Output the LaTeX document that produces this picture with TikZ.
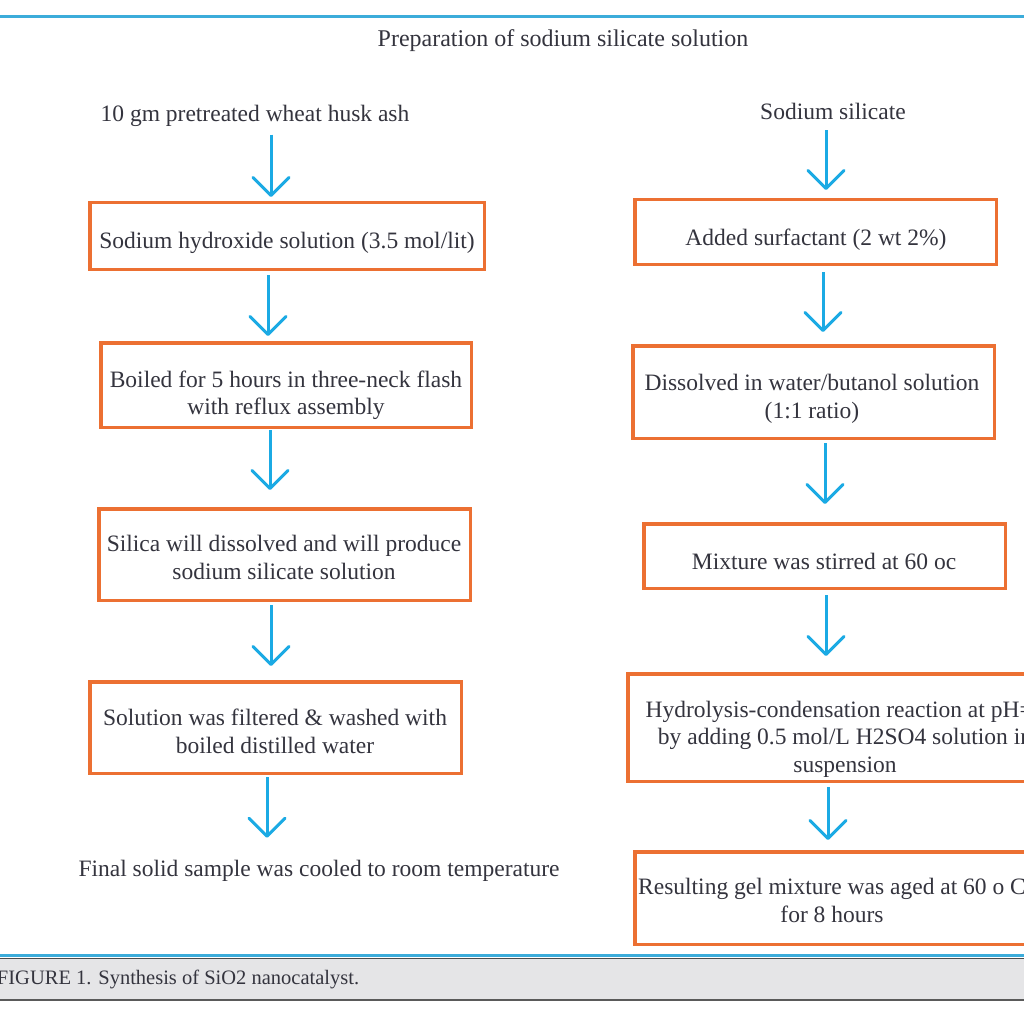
\documentclass[tikz,border=0pt]{standalone}
\usepackage{fontspec}
\setmainfont{Liberation Serif}
\usetikzlibrary{arrows.meta}
\definecolor{boxor}{RGB}{236,112,50}
\definecolor{arrbl}{RGB}{27,170,228}
\definecolor{txtc}{RGB}{52,52,62}
\definecolor{rulebl}{RGB}{60,172,218}
\definecolor{capbg}{RGB}{229,229,231}
\definecolor{capdk}{RGB}{90,90,90}
\begin{document}
\begin{tikzpicture}[x=1pt,y=-1pt,
  txt/.style={text=txtc, inner sep=0pt, outer sep=0pt, align=center,
    font=\fontsize{23.5}{27.5}\selectfont,
    execute at begin node=\strut, execute at end node=\strut},
  ttl/.style={txt, font=\fontsize{24}{27.5}\selectfont},
  captxt/.style={txt, font=\fontsize{20.5}{24}\selectfont},
  box/.style={draw=boxor, line width=3.5pt, inner sep=0pt},
  arr/.style={draw=arrbl, line width=3pt, -{Straight Barb[length=18pt,width=36pt,round]}},
  toprule/.style={draw=rulebl, line width=3pt},
]
\useasboundingbox (0,0) rectangle (1024,1024);
\clip (0,0) rectangle (1024,1024);
\fill[white] (0,0) rectangle (1024,1024);

% top rule and title
\draw[toprule] (-5,17) -- (1030,17);
\node[ttl] (title) at (563,41.5) {Preparation of sodium silicate solution};

% left column
\node[txt] (t0) at (255,116) {10 gm pretreated wheat husk ash};
\node[box, minimum width=394.5pt, minimum height=66.5pt] (b1) at (287,236) {};
\node[txt] (b1t) at (287,243) {Sodium hydroxide solution (3.5 mol/lit)};
\node[box, minimum width=370.5pt, minimum height=84.5pt] (b2) at (286,385) {};
\node[txt] (b2t) at (286,397) {Boiled for 5 hours in three-neck flash\\with reflux assembly};
\node[box, minimum width=371.5pt, minimum height=91.5pt] (b3) at (284.5,554.5) {};
\node[txt] (b3t) at (284,561.5) {Silica will dissolved and will produce\\sodium silicate solution};
\node[box, minimum width=371.5pt, minimum height=91.5pt] (b4) at (275.5,727.5) {};
\node[txt] (b4t) at (275,735.5) {Solution was filtered \& washed with\\boiled distilled water};
\node[txt] (tf) at (319,871) {Final solid sample was cooled to room temperature};

% right column
\node[txt] (s0) at (833,114.5) {Sodium silicate};
\node[box, minimum width=361.5pt, minimum height=64.5pt] (bA) at (815.5,232) {};
\node[txt] (bAt) at (816,240) {Added surfactant (2 wt 2\%)};
\node[box, minimum width=361.5pt, minimum height=92.5pt] (bB) at (813.5,392) {};
\node[txt] (bBt) at (812,400.5) {Dissolved in water/butanol solution\\(1:1 ratio)};
\node[box, minimum width=361.5pt, minimum height=64.5pt] (bC) at (824.5,556) {};
\node[txt] (bCt) at (824,564) {Mixture was stirred at 60 oc};
\node[box, minimum width=434.5pt, minimum height=107.5pt] (bD) at (845,727.5) {};
\node[txt] (bDt) at (845,740.5) {Hydrolysis-condensation reaction at pH=\hphantom{0}\\by adding 0.5 mol/L H2SO4 solution in\\suspension};
\node[box, minimum width=394.5pt, minimum height=92.5pt] (bE) at (832,898) {};
\node[txt] (bEt) at (832,904.5) {Resulting gel mixture was aged at 60 o C\\for 8 hours};

% arrow x positions
\coordinate (xL0) at (271,0);
\coordinate (xL1) at (268,0);
\coordinate (xL2) at (270,0);
\coordinate (xL3) at (271,0);
\coordinate (xL4) at (267,0);
\coordinate (xR0) at (826,0);
\coordinate (xR1) at (823,0);
\coordinate (xR2) at (825,0);
\coordinate (xR3) at (826,0);
\coordinate (xR4) at (828,0);

\draw[arr, shorten <=5pt, shorten >=4pt] (t0.south -| xL0) -- (b1.north -| xL0);
\draw[arr, shorten <=4pt, shorten >=5pt] (b1.south -| xL1) -- (b2.north -| xL1);
\draw[arr, shorten <=1pt, shorten >=17pt] (b2.south -| xL2) -- (b3.north -| xL2);
\draw[arr, shorten <=3pt, shorten >=14pt] (b3.south -| xL3) -- (b4.north -| xL3);
\draw[arr, shorten <=2pt, shorten >=19.5pt] (b4.south -| xL4) -- (tf.north -| xL4);

\draw[arr, shorten <=2pt, shorten >=8pt] (s0.south -| xR0) -- (bA.north -| xR0);
\draw[arr, shorten <=6pt, shorten >=12pt] (bA.south -| xR1) -- (bB.north -| xR1);
\draw[arr, shorten <=3pt, shorten >=18pt] (bB.south -| xR2) -- (bC.north -| xR2);
\draw[arr, shorten <=5pt, shorten >=16pt] (bC.south -| xR3) -- (bD.north -| xR3);
\draw[arr, shorten <=4pt, shorten >=10pt] (bD.south -| xR4) -- (bE.north -| xR4);

% caption bar
\fill[capbg] (-5,958) rectangle (1030,1000);
\draw[toprule] (-5,955) -- (1030,955);
\draw[black!70, line width=1pt] (-5,958.5) -- (1030,958.5);
\draw[capdk, line width=2.5pt] (-5,1000) -- (1030,1000);
\node[captxt, anchor=west] (cap) at (-3,980) {FIGURE 1. Synthesis of SiO2 nanocatalyst.};
\end{tikzpicture}
\end{document}
